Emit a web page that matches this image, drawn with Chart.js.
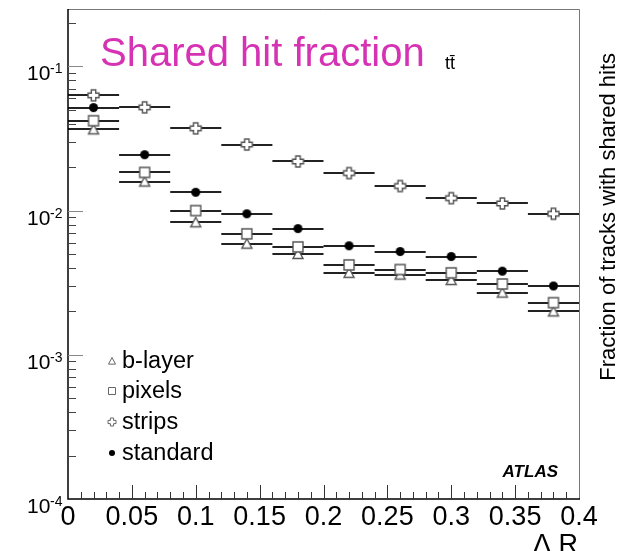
<!DOCTYPE html>
<html>
<head>
<meta charset="utf-8">
<script src="https://cdn.jsdelivr.net/npm/chart.js@4.4.1/dist/chart.umd.min.js"></script>
<style>
  html, body { margin: 0; padding: 0; background: #fff; }
  canvas { display: block; }
</style>
</head>
<body>
<canvas id="sharedHits" width="622" height="551"></canvas>
<script>
//-------------------------------------Données-------------------------------------
const binCenters = [0.02, 0.06, 0.10, 0.14, 0.18, 0.22, 0.26, 0.30, 0.34, 0.38];
const binHalfWidth = 0.02;
const strips   = [0.063, 0.052, 0.0372, 0.0287, 0.0219, 0.0182, 0.0148, 0.0122, 0.0112, 0.0095];
const standard = [0.0518, 0.0244, 0.0134, 0.0095, 0.0075, 0.0057, 0.0052, 0.0048, 0.0038, 0.0030];
const pixels   = [0.042, 0.0184, 0.0100, 0.0069, 0.0056, 0.0042, 0.0039, 0.0037, 0.0031, 0.0023];
const bLayer   = [0.0366, 0.0159, 0.0083, 0.0059, 0.0050, 0.0037, 0.0036, 0.0033, 0.0027, 0.0020];
const legendLabels = ['b-layer', 'pixels', 'strips', 'standard'];
const yDecades = [-4, -3, -2, -1];

const FONT = '"Liberation Sans", Arial, Helvetica, sans-serif';
const MAGENTA = '#d632b4';

//-------------------------------------Marqueurs-------------------------------------
function drawMarker(ctx, kind, cx, cy, s, stroke) {
  ctx.save();
  ctx.lineWidth = s > 8 ? 1.4 : 1;
  ctx.strokeStyle = stroke;
  ctx.fillStyle = '#fff';
  const r = s / 2;
  ctx.beginPath();
  if (kind === 'triangle') {
    ctx.moveTo(cx, cy - r);
    ctx.lineTo(cx + r, cy + r * 0.9);
    ctx.lineTo(cx - r, cy + r * 0.9);
    ctx.closePath();
    ctx.fill();
    ctx.stroke();
  } else if (kind === 'square') {
    ctx.rect(cx - r, cy - r, s, s);
    ctx.fill();
    ctx.stroke();
  } else if (kind === 'cross') {
    const a = s / 5;
    ctx.moveTo(cx - a, cy - r);
    ctx.lineTo(cx + a, cy - r);
    ctx.lineTo(cx + a, cy - a);
    ctx.lineTo(cx + r, cy - a);
    ctx.lineTo(cx + r, cy + a);
    ctx.lineTo(cx + a, cy + a);
    ctx.lineTo(cx + a, cy + r);
    ctx.lineTo(cx - a, cy + r);
    ctx.lineTo(cx - a, cy + a);
    ctx.lineTo(cx - r, cy + a);
    ctx.lineTo(cx - r, cy - a);
    ctx.lineTo(cx - a, cy - a);
    ctx.closePath();
    ctx.fill();
    ctx.stroke();
  } else {
    ctx.fillStyle = '#000';
    ctx.arc(cx, cy, r, 0, Math.PI * 2);
    ctx.fill();
  }
  ctx.restore();
}

function makeMarker(kind, s) {
  const c = document.createElement('canvas');
  c.width = s + 4;
  c.height = s + 4;
  drawMarker(c.getContext('2d'), kind, (s + 4) / 2, (s + 4) / 2, s, '#555');
  return c;
}

const markerKinds = ['triangle', 'square', 'cross', 'circle'];
const markerSizes = [10, 10, 11, 9];

function toPoints(values) {
  return binCenters.map((x, i) => ({ x: x, y: values[i] }));
}

//-------------------------------------Plugins de dessin-------------------------------------
const fondBlanc = {
  id: 'fondBlanc',
  beforeDraw(chart) {
    const ctx = chart.ctx;
    ctx.save();
    ctx.fillStyle = '#fff';
    ctx.fillRect(0, 0, chart.width, chart.height);
    ctx.restore();
  }
};

// barres horizontales (largeur du bin)
const barresErreur = {
  id: 'barresErreur',
  beforeDatasetsDraw(chart) {
    const ctx = chart.ctx;
    const xs = chart.scales.x;
    const ys = chart.scales.y;
    ctx.save();
    ctx.strokeStyle = '#222';
    ctx.lineWidth = 2;
    chart.data.datasets.forEach(ds => {
      ds.data.forEach(p => {
        const y = Math.round(ys.getPixelForValue(p.y));
        ctx.beginPath();
        ctx.moveTo(xs.getPixelForValue(p.x - binHalfWidth), y);
        ctx.lineTo(xs.getPixelForValue(p.x + binHalfWidth), y);
        ctx.stroke();
      });
    });
    ctx.restore();
  }
};

// cadre, graduations, textes
const decor = {
  id: 'decor',
  afterDraw(chart) {
    const ctx = chart.ctx;
    const xs = chart.scales.x;
    const ys = chart.scales.y;
    const area = chart.chartArea;
    ctx.save();

    // cadre
    ctx.strokeStyle = '#777';
    ctx.lineWidth = 1;
    ctx.beginPath();
    ctx.moveTo(area.left, area.top + 0.5);
    ctx.lineTo(area.right + 0.5, area.top + 0.5);
    ctx.lineTo(area.right + 0.5, area.bottom);
    ctx.stroke();
    ctx.strokeStyle = '#000';
    ctx.lineWidth = 1.5;
    ctx.beginPath();
    ctx.moveTo(area.left, area.top);
    ctx.lineTo(area.left, area.bottom);
    ctx.lineTo(area.right + 1, area.bottom);
    ctx.stroke();

    // graduations x
    ctx.lineWidth = 1;
    ctx.strokeStyle = '#333';
    for (let i = 1; i < 40; i++) {
      const px = Math.round(xs.getPixelForValue(i * 0.01)) + 0.5;
      const len = i % 5 === 0 ? 14 : 7;
      ctx.beginPath();
      ctx.moveTo(px, area.bottom);
      ctx.lineTo(px, area.bottom - len);
      ctx.stroke();
    }

    // graduations y (log)
    for (let e = -4; e <= -1; e++) {
      for (let k = 1; k <= 9; k++) {
        const v = k * Math.pow(10, e);
        if (v > ys.max || (e === -4 && k === 1)) continue;
        const py = Math.round(ys.getPixelForValue(v)) + 0.5;
        const len = k === 1 ? 15 : 8;
        ctx.strokeStyle = k === 1 ? '#888' : '#444';
        ctx.beginPath();
        ctx.moveTo(area.left, py);
        ctx.lineTo(area.left + len, py);
        ctx.stroke();
      }
    }

    // étiquettes y 10^n
    ctx.fillStyle = '#000';
    ctx.textAlign = 'left';
    ctx.textBaseline = 'alphabetic';
    yDecades.forEach(e => {
      const py = ys.getPixelForValue(Math.pow(10, e));
      ctx.font = '21px ' + FONT;
      ctx.fillText('10', 27, py + 14);
      ctx.font = '14px ' + FONT;
      ctx.fillText(String(e), 50, py + 7);
    });

    // titre
    ctx.fillStyle = MAGENTA;
    ctx.font = '40px ' + FONT;
    ctx.fillText('Shared hit fraction', 100, 66);
    ctx.fillStyle = '#000';
    ctx.font = '18px ' + FONT;
    ctx.fillText('tt\u0304', 445, 69);

    // ATLAS
    ctx.font = 'italic bold 17px ' + FONT;
    ctx.textAlign = 'right';
    ctx.fillText('ATLAS', 558, 477);

    // titre axe x
    ctx.font = '27px ' + FONT;
    ctx.fillText('\u0394 R', 578, 553);

    // titre axe y
    ctx.save();
    ctx.translate(615, 53);
    ctx.rotate(-Math.PI / 2);
    ctx.font = '22px ' + FONT;
    ctx.textAlign = 'right';
    ctx.fillText('Fraction of tracks with shared hits', 0, 0);
    ctx.restore();

    // légende
    const rows = [361, 391, 422, 453];
    const legendSizes = [7, 7, 8, 6];
    ctx.font = '23.5px ' + FONT;
    ctx.textAlign = 'left';
    legendLabels.forEach((label, i) => {
      drawMarker(ctx, markerKinds[i], 112, rows[i], legendSizes[i], '#666');
      ctx.fillStyle = '#000';
      ctx.fillText(label, 122, rows[i] + 7);
    });

    ctx.restore();
  }
};

//-------------------------------------Graphique-------------------------------------
const seriesValues = [bLayer, pixels, strips, standard];
const ctx = document.getElementById('sharedHits').getContext('2d');
new Chart(ctx, {
  type: 'scatter',
  data: {
    datasets: legendLabels.map((label, i) => ({
      label: label,
      data: toPoints(seriesValues[i]),
      pointStyle: makeMarker(markerKinds[i], markerSizes[i]),
      pointRadius: 6,
      showLine: false
    })).reverse()
  },
  options: {
    responsive: false,
    animation: false,
    layout: { padding: { left: 68, right: 43, top: 9, bottom: 10 } },
    plugins: {
      legend: { display: false },
      tooltip: { enabled: false }
    },
    scales: {
      x: {
        type: 'linear',
        min: 0,
        max: 0.4,
        grid: { display: false, drawTicks: false },
        border: { display: false },
        ticks: {
          stepSize: 0.05,
          padding: 2,
          color: '#000',
          font: { family: FONT, size: 27 },
          maxRotation: 0,
          callback: v => String(parseFloat(v.toFixed(2)))
        },
        afterFit: s => { s.height = 42; }
      },
      y: {
        type: 'logarithmic',
        min: 1e-4,
        max: 0.25,
        grid: { display: false, drawTicks: false },
        border: { display: false },
        ticks: { display: false },
        afterFit: s => { s.width = 0; }
      }
    }
  },
  plugins: [fondBlanc, barresErreur, decor]
});
</script>
</body>
</html>
